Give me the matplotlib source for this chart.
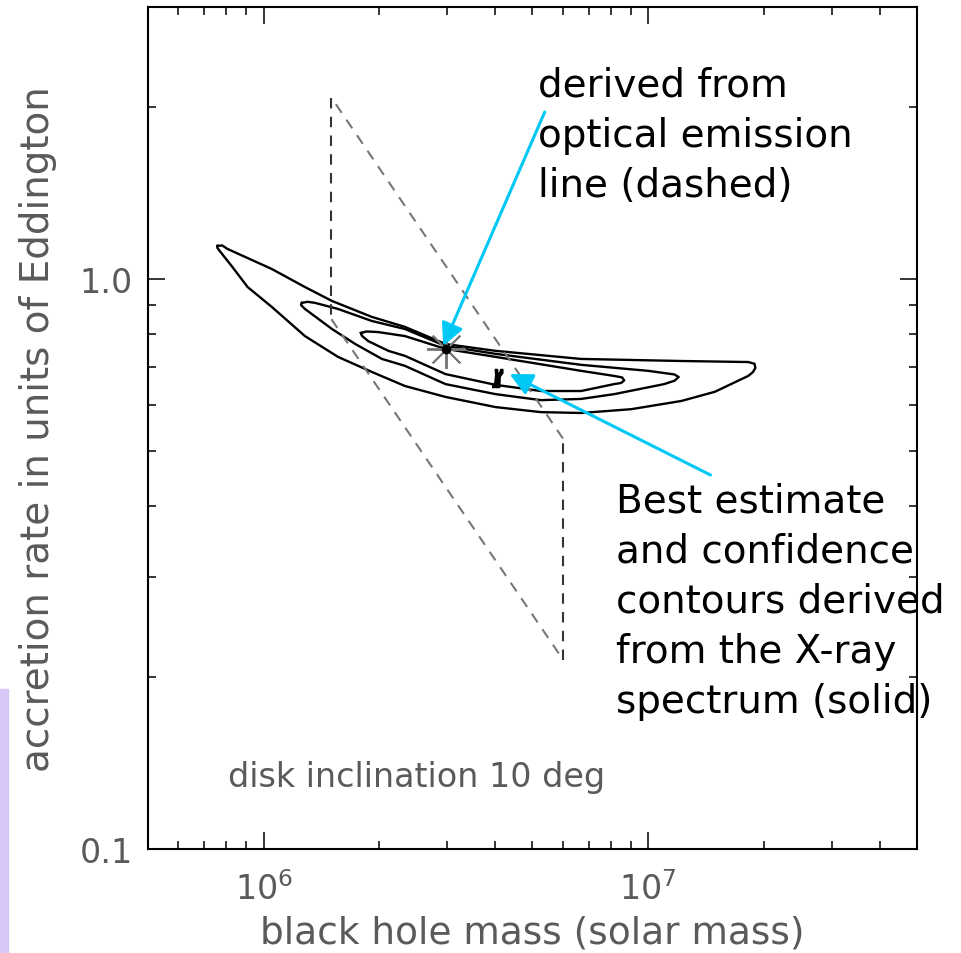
import matplotlib
matplotlib.use("Agg")
import matplotlib.pyplot as plt
from matplotlib.patches import Rectangle
from matplotlib.ticker import NullFormatter

# X-ray confidence contours (black hole mass in solar masses, rate in Eddington units)
outer_mass = [7.59e5, 7.80e5, 8.05e5, 1.05e6, 1.28e6, 1.505e6, 1.91e6, 2.33e6, 2.97e6, 4.01e6,
              6.69e6, 1.22e7, 1.82e7, 1.89e7, 1.90e7, 1.87e7, 1.82e7, 1.49e7, 1.22e7, 9.03e6,
              6.69e6, 5.26e6, 4.01e6, 2.97e6, 2.33e6, 1.91e6, 1.56e6, 1.28e6, 1.05e6, 9.08e5,
              8.25e5, 7.68e5, 7.57e5]
outer_rate = [1.143, 1.145, 1.129, 1.041, 0.968, 0.915, 0.858, 0.824, 0.769, 0.748,
              0.724, 0.718, 0.715, 0.710, 0.698, 0.686, 0.676, 0.634, 0.611, 0.591,
              0.582, 0.584, 0.596, 0.621, 0.649, 0.687, 0.730, 0.794, 0.893, 0.968,
              1.054, 1.120, 1.135]

middle_mass = [1.257e6, 1.30e6, 1.36e6, 1.56e6, 1.91e6, 2.33e6, 2.97e6, 4.01e6, 6.69e6, 1.0e7,
               1.17e7, 1.20e7, 1.17e7, 1.10e7, 8.15e6, 6.69e6, 5.26e6, 4.01e6, 2.97e6, 2.33e6,
               2.03e6, 1.73e6, 1.505e6, 1.28e6, 1.25e6]
middle_rate = [0.908, 0.912, 0.908, 0.886, 0.844, 0.817, 0.763, 0.739, 0.707, 0.690,
               0.680, 0.673, 0.663, 0.654, 0.628, 0.616, 0.613, 0.628, 0.654, 0.704,
               0.724, 0.769, 0.817, 0.886, 0.900]

inner_mass = [1.79e6, 1.85e6, 1.985e6, 2.33e6, 2.97e6, 4.01e6, 6.69e6, 8.15e6, 8.55e6, 8.66e6,
              8.50e6, 8.15e6, 6.69e6, 5.26e6, 4.01e6, 2.97e6, 2.33e6, 2.11e6, 1.87e6, 1.80e6]
inner_rate = [0.804, 0.809, 0.807, 0.794, 0.754, 0.730, 0.690, 0.676, 0.672, 0.664,
              0.657, 0.654, 0.636, 0.636, 0.652, 0.681, 0.733, 0.748, 0.778, 0.795]

# optical emission line region (dashed parallelogram)
emis_mass = [1.5e6, 1.5e6, 6.0e6, 6.0e6]
emis_rate = [2.08, 0.85, 0.215, 0.525]

# markers
star_mass, star_rate = [2.97e6], [0.755]
best_mass, best_rate = [4.05e6], [0.67]

x_ticks = [1e6, 1e7]
x_labels = [r'$10^6$', r'$10^7$']
y_ticks = [0.1, 1.0]
y_labels = ['0.1', '1.0']
y_minor = [0.2, 0.3, 0.4, 0.5, 0.6, 0.7, 0.8, 0.9, 2.0]

gray = '#5a5a5a'
cyan = '#00c8f5'

fig = plt.figure(figsize=(9.61, 9.54), dpi=100)
ax = fig.add_axes([0.154, 0.109, 0.8002, 0.8826])
ax.set_xscale('log')
ax.set_yscale('log')
ax.set_xlim(5e5, 5e7)
ax.set_ylim(0.1, 3.0)

# contours, closed
for m, r in [(outer_mass, outer_rate), (middle_mass, middle_rate), (inner_mass, inner_rate)]:
    ax.plot(m + m[:1], r + r[:1], color='black', lw=1.7, solid_joinstyle='round')

# dashed region: verticals darker, diagonals lighter
ax.plot(emis_mass[0:2], emis_rate[0:2], color='#333333', lw=1.5, dashes=(5, 4))
ax.plot(emis_mass[2:4], emis_rate[2:4], color='#333333', lw=1.5, dashes=(5, 4))
ax.plot(emis_mass[1:3], emis_rate[1:3], color='#777777', lw=1.5, dashes=(5, 4))
ax.plot([emis_mass[3], emis_mass[0]], [emis_rate[3], emis_rate[0]], color='#777777', lw=1.5, dashes=(5, 4))

# asterisk for the emission-line estimate
ax.plot(star_mass, star_rate, ls='none', marker=(8, 2, 0), ms=28, mew=1.4, color='#777777')
ax.plot(star_mass, star_rate, ls='none', marker='o', ms=6, color='black')

# best X-ray estimate glyph
glyph = [(-0.6, -1.0), (0.25, -1.0), (0.3, 0.2), (0.6, 0.6), (0.6, 1.0), (0.35, 1.0),
         (0.25, 0.6), (0.05, 0.6), (0.0, 1.0), (-0.25, 1.0), (-0.2, 0.4), (-0.3, -0.5),
         (-0.6, -0.7)]
ax.plot(best_mass, best_rate, ls='none', marker=glyph, ms=13, color='black')

ax.set_xticks(x_ticks)
ax.set_xticklabels(x_labels)
ax.set_yticks(y_ticks)
ax.set_yticklabels(y_labels)
ax.set_yticks(y_minor, minor=True)
ax.yaxis.set_minor_formatter(NullFormatter())
ax.xaxis.set_minor_formatter(NullFormatter())
ax.tick_params(which='both', direction='in', top=True, right=True, colors='black',
               labelcolor=gray, labelsize=24)
ax.tick_params(which='major', length=12, width=1.1)
ax.tick_params(which='minor', length=6, width=1.1)
ax.tick_params(axis='x', pad=16)
ax.tick_params(axis='y', pad=11)
for s in ax.spines.values():
    s.set_linewidth(1.5)

ax.set_xlabel('black hole mass (solar mass)', fontsize=27, color=gray, labelpad=6)
ax.set_ylabel('accretion rate in units of Eddington', fontsize=28, color=gray, labelpad=16)
ax.text(0.104, 0.075, 'disk inclination 10 deg', transform=ax.transAxes,
        fontsize=24, color=gray, va='baseline')

# annotations
ax.annotate('', xy=(2.93e6, 0.763), xytext=(5.38e6, 1.963),
            arrowprops=dict(arrowstyle='-|>', color=cyan, lw=2.2, mutation_scale=34,
                            shrinkA=0, shrinkB=0))
ax.annotate('', xy=(4.36e6, 0.681), xytext=(1.452e7, 0.453),
            arrowprops=dict(arrowstyle='-|>', color=cyan, lw=2.2, mutation_scale=34,
                            shrinkA=0, shrinkB=0))
fig.text(0.560, 0.930, 'derived from\noptical emission\nline (dashed)', fontsize=28,
         va='top', ha='left', linespacing=1.4)
fig.text(0.641, 0.494, 'Best estimate\nand confidence\ncontours derived\nfrom the X-ray\nspectrum (solid)',
         fontsize=28, va='top', ha='left', linespacing=1.4)

fig.patches.append(Rectangle((0, 0), 8 / 961, 264 / 954, transform=fig.transFigure,
                             color='#d8c6f6', zorder=0))

fig.savefig('out.png', dpi=100)
